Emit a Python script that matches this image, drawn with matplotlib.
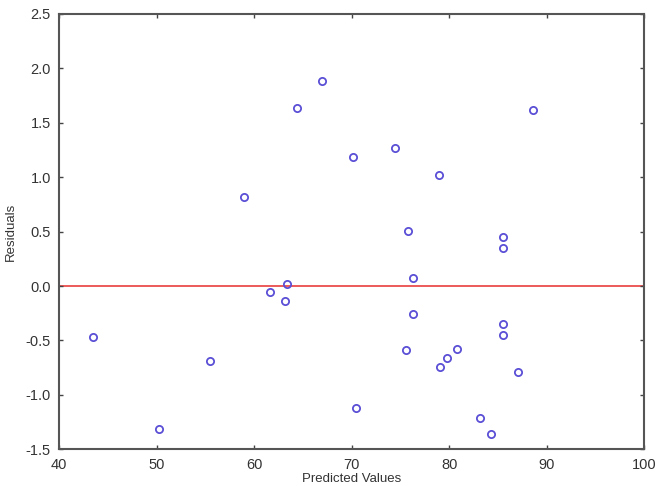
import matplotlib.pyplot as plt

plt.rcParams['font.family'] = ['Liberation Sans', 'DejaVu Sans']

predicted = [43.5, 50.25, 55.5, 59.0, 61.6, 63.2, 63.35, 64.35, 67.0,
             70.15, 70.4, 74.45, 75.6, 75.75, 78.95, 76.3, 76.25, 79.05,
             79.8, 80.8, 83.2, 84.35, 85.55, 85.55, 85.55, 85.55, 87.1, 88.6]
residuals = [-0.47, -1.31, -0.69, 0.82, -0.05, -0.14, 0.02, 1.64, 1.88,
             1.19, -1.12, 1.27, -0.59, 0.51, 1.02, 0.07, -0.26, -0.74,
             -0.66, -0.58, -1.21, -1.36, 0.45, 0.35, -0.35, -0.45, -0.79, 1.62]

xticks = [40, 50, 60, 70, 80, 90, 100]
yticks = [-1.5, -1.0, -0.5, 0.0, 0.5, 1.0, 1.5, 2.0, 2.5]

fig = plt.figure(figsize=(6.58, 4.86), dpi=100)
ax = fig.add_axes([0.0901, 0.0755, 0.8886, 0.8957])

ax.axhline(0, color='#ec5a5a', linewidth=1.4, zorder=1)
ax.plot(predicted, residuals, linestyle='none', marker='o', markersize=5.2,
        markerfacecolor='none', markeredgecolor='#5b4fd6', markeredgewidth=1.3,
        zorder=2)

ax.set_xlim(40, 100)
ax.set_ylim(-1.5, 2.5)
ax.set_xticks(xticks)
ax.set_yticks(yticks)
ax.set_xticklabels([str(t) for t in xticks])
ax.set_yticklabels([f'{t:.1f}' for t in yticks])
ax.tick_params(direction='in', length=3, width=1, color='#444444',
               labelcolor='#333333', labelsize=10.5, top=True, right=True)
ax.tick_params(axis='x', pad=6)
ax.tick_params(axis='y', pad=6)
for s in ax.spines.values():
    s.set_color('#555555')
    s.set_linewidth(1.5)

ax.set_xlabel('Predicted Values', fontsize=9.5, color='#333333', labelpad=1)
ax.set_ylabel('Residuals', fontsize=9.5, color='#333333', labelpad=6)

fig.savefig('out.png', dpi=100)
